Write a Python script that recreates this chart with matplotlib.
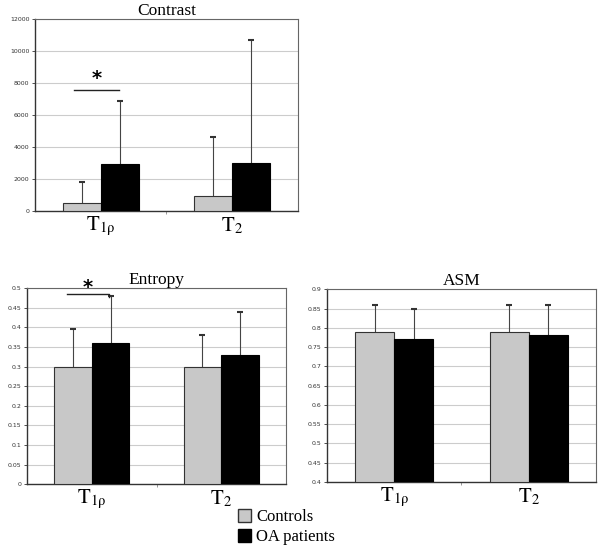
import matplotlib
matplotlib.use("Agg")
import matplotlib.pyplot as plt
from matplotlib.patches import Patch

plt.rcParams['mathtext.fontset'] = 'stix'
SERIF = 'Liberation Serif'

categories = [r'$\mathrm{T}_{\mathrm{1\rho}}$', r'$\mathrm{T}_{2}$']

contrast_ctrl = [480, 950]
contrast_ctrl_err = [1320, 3690]
contrast_oa = [2950, 2990]
contrast_oa_err = [3890, 7690]

entropy_ctrl = [0.30, 0.30]
entropy_ctrl_err = [0.095, 0.08]
entropy_oa = [0.36, 0.33]
entropy_oa_err = [0.12, 0.11]

asm_ctrl = [0.79, 0.79]
asm_ctrl_err = [0.07, 0.07]
asm_oa = [0.77, 0.78]
asm_oa_err = [0.08, 0.08]

GRAY = '#c8c8c8'
BLACK = '#000000'
W = 0.29


def up_error(ax, xs, vals, errs):
    tops = [v + e for v, e in zip(vals, errs)]
    ax.vlines(xs, vals, tops, color='#444444', linewidth=0.8, zorder=2)
    ax.plot(xs, tops, linestyle='none', marker='_', markersize=4,
            markeredgewidth=1.5, color='#333333', zorder=2)


def draw_panel(ax, title, ctrl, ctrl_err, oa, oa_err, ylim, ystep, fmt):
    x = list(range(len(categories)))
    xc = [i - W / 2 for i in x]
    xo = [i + W / 2 for i in x]
    base = ylim[0]
    ax.bar(xc, [v - base for v in ctrl], W, bottom=base, color=GRAY,
           edgecolor='#333333', linewidth=0.8, zorder=3)
    ax.bar(xo, [v - base for v in oa], W, bottom=base, color=BLACK,
           edgecolor='#000000', linewidth=0.8, zorder=3)
    up_error(ax, xc, ctrl, ctrl_err)
    up_error(ax, xo, oa, oa_err)
    ax.set_xlim(-0.5, len(categories) - 0.5)
    ax.set_ylim(*ylim)
    n = int(round((ylim[1] - ylim[0]) / ystep))
    ticks = [ylim[0] + k * ystep for k in range(n + 1)]
    ax.set_yticks(ticks)
    ax.set_yticklabels([fmt(t) for t in ticks])
    ax.yaxis.grid(True, color='#cccccc', linewidth=0.8, zorder=0)
    ax.set_axisbelow(True)
    ax.tick_params(axis='y', labelsize=4.5, length=2, width=0.6,
                   colors='#333333', pad=2)
    ax.set_xticks(x)
    ax.set_xticklabels(categories, fontsize=15)
    ax.tick_params(axis='x', length=0, pad=3)
    ax.set_xticks([0.5], minor=True)
    ax.tick_params(axis='x', which='minor', length=2, width=0.6, colors='#888888')
    for side in ['left', 'bottom']:
        ax.spines[side].set_color('#333333')
        ax.spines[side].set_linewidth(1.0)
    for side in ['top', 'right']:
        ax.spines[side].set_color('#666666')
        ax.spines[side].set_linewidth(0.8)
    ax.set_title(title, family=SERIF, fontsize=12.5, pad=1)


def fmt_int(v):
    return f"{v:.0f}"


def fmt_dec(v):
    return f"{round(v, 2):g}"


fig = plt.figure(figsize=(6.02, 5.52), dpi=100)

ax1 = fig.add_axes([0.058, 0.618, 0.437, 0.348])
draw_panel(ax1, 'Contrast', contrast_ctrl, contrast_ctrl_err, contrast_oa,
           contrast_oa_err, (0, 12000), 2000, fmt_int)
ax1.plot([-0.2, 0.14], [7550, 7550], color='#222222', linewidth=1.0)
ax1.text(-0.03, 7650, '*', ha='center', va='bottom', fontsize=14,
         fontweight='bold')

ax2 = fig.add_axes([0.045, 0.123, 0.430, 0.355])
draw_panel(ax2, 'Entropy', entropy_ctrl, entropy_ctrl_err, entropy_oa,
           entropy_oa_err, (0, 0.5), 0.05, fmt_dec)
ax2.plot([-0.19, 0.13, 0.13], [0.485, 0.485, 0.478], color='#222222',
         linewidth=1.0, clip_on=False)
ax2.text(-0.03, 0.478, '*', ha='center', va='bottom', fontsize=14,
         fontweight='bold')

ax3 = fig.add_axes([0.543, 0.127, 0.447, 0.349])
draw_panel(ax3, 'ASM', asm_ctrl, asm_ctrl_err, asm_oa, asm_oa_err,
           (0.4, 0.9), 0.05, fmt_dec)

handles = [Patch(facecolor=GRAY, edgecolor='#333333', label='Controls'),
           Patch(facecolor=BLACK, edgecolor='#000000', label='OA patients')]
fig.legend(handles=handles, loc='upper left', bbox_to_anchor=(0.395, 0.078),
           frameon=False, prop={'family': SERIF, 'size': 12},
           handlelength=0.8, handleheight=0.8, handletextpad=0.3,
           labelspacing=0.25, borderaxespad=0, borderpad=0)

fig.savefig('out.png', dpi=100)
